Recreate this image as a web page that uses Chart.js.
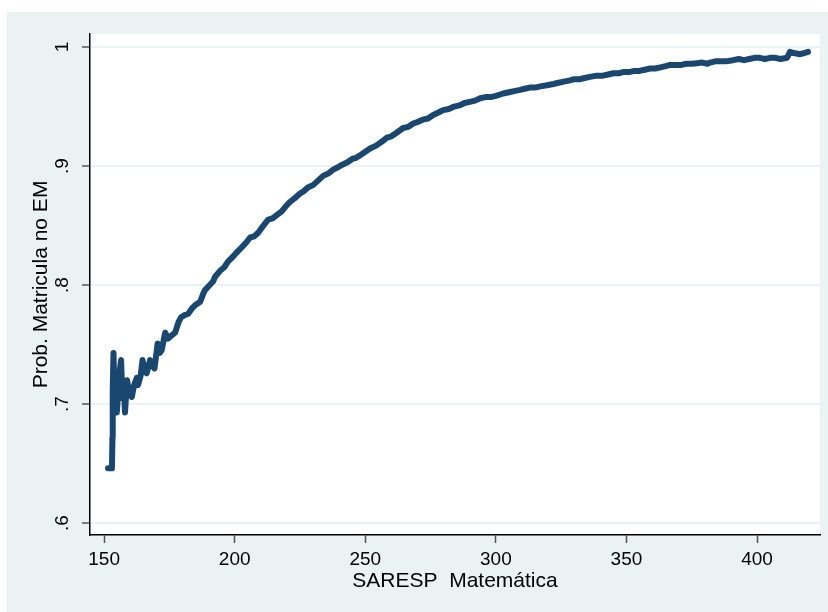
<!DOCTYPE html>
<html>
<head>
<meta charset="utf-8">
<script src="https://cdn.jsdelivr.net/npm/chart.js@4/dist/chart.umd.min.js"></script>
<style>
  body { margin: 0; background: #ffffff; }
  canvas { display: block; }
</style>
</head>
<body>
<canvas id="probChart" width="828" height="612"></canvas>
<script>
// Nota SARESP (eixo x) e probabilidade estimada de matrícula (eixo y)
const saresp = [
  151.5, 153.0, 153.2, 153.3, 153.6, 154.0, 154.3, 154.9, 155.5, 156.0,
  156.5, 157.0, 157.5, 158.0, 158.8, 159.5, 160.6, 161.5, 162.5, 163.0,
  164.0, 164.7, 165.5, 166.3, 167.6, 168.5, 169.3, 170.5, 171.3, 172.0,
  173.4, 174.5, 176, 177.2, 178.5, 179.5, 181, 182.2, 183.5, 184.8,
  186.8, 188, 188.7, 190, 191.7, 192.5, 194.4, 196, 197.5, 199.4,
  201, 202.8, 204.5, 205.9, 207.5, 209, 211, 212.8, 214.5, 216.2,
  218, 219.5, 221.2, 223, 225, 226.5, 228, 230, 232, 234,
  236, 237.7, 239.5, 241, 243, 245, 246.5, 248, 250, 252,
  254, 256, 258.3, 260, 262, 264.5, 266.5, 268.5, 270, 272,
  274, 276, 278, 279.8, 282, 284, 286, 288, 290, 292,
  294, 296, 298, 300, 302.8, 305, 307, 309.3, 311, 313,
  315, 317, 319.6, 322, 324, 326, 328.4, 330, 332, 334,
  336, 338.7, 341, 343, 345, 347, 348.7, 351, 353, 355,
  357, 359, 361, 363, 365, 366.7, 369, 371, 373, 375,
  377, 379, 381, 382, 384, 386, 388, 390.8, 393, 395,
  397, 399, 401, 403, 405, 407, 409, 411.5, 412.6, 414,
  416.5, 418, 419.5
];
const probMatricula = [
  0.646, 0.646, 0.672, 0.712, 0.743, 0.705, 0.725, 0.693, 0.715, 0.728,
  0.737, 0.705, 0.716, 0.693, 0.720, 0.710, 0.706, 0.716, 0.722, 0.716,
  0.724, 0.737, 0.728, 0.726, 0.737, 0.732, 0.730, 0.751, 0.743, 0.745,
  0.760, 0.755, 0.758, 0.760, 0.769, 0.773, 0.775, 0.776, 0.780, 0.783,
  0.786, 0.793, 0.796, 0.799, 0.803, 0.807, 0.812, 0.815, 0.820, 0.824,
  0.828, 0.832, 0.836, 0.840, 0.841, 0.844, 0.850, 0.855, 0.856, 0.859,
  0.862, 0.866, 0.870, 0.873, 0.877, 0.879, 0.882, 0.884, 0.888, 0.892,
  0.894, 0.897, 0.899, 0.901, 0.903, 0.906, 0.907, 0.909, 0.912, 0.915,
  0.917, 0.920, 0.924, 0.925, 0.928, 0.932, 0.933, 0.936, 0.937, 0.939,
  0.940, 0.943, 0.945, 0.947, 0.948, 0.950, 0.951, 0.953, 0.954, 0.955,
  0.957, 0.958, 0.958, 0.959, 0.961, 0.962, 0.963, 0.964, 0.965, 0.966,
  0.966, 0.967, 0.968, 0.969, 0.970, 0.971, 0.972, 0.973, 0.973, 0.974,
  0.975, 0.976, 0.976, 0.977, 0.978, 0.978, 0.979, 0.979, 0.980, 0.980,
  0.981, 0.982, 0.982, 0.983, 0.984, 0.985, 0.985, 0.985, 0.986, 0.986,
  0.9865, 0.987, 0.986, 0.987, 0.988, 0.988, 0.988, 0.989, 0.990, 0.989,
  0.990, 0.991, 0.991, 0.990, 0.991, 0.991, 0.990, 0.991, 0.996, 0.995,
  0.994, 0.995, 0.996
];
const xTicks = [150, 200, 250, 300, 350, 400];
const yTicks = [0.6, 0.7, 0.8, 0.9, 1];

const FONT = "'Liberation Sans', Arial, sans-serif";
const BG = '#EAF2F3';

// fundo externo azulado e área do gráfico branca
const backgroundPlugin = {
  id: 'stataBackground',
  beforeDraw(chart) {
    const ctx = chart.ctx;
    const a = chart.chartArea;
    ctx.save();
    ctx.fillStyle = '#ffffff';
    ctx.fillRect(0, 0, chart.width, chart.height);
    ctx.fillStyle = BG;
    ctx.fillRect(7, 12, chart.width - 7, chart.height - 12);
    ctx.fillStyle = '#ffffff';
    ctx.fillRect(a.left, a.top, a.right - a.left, a.bottom - a.top);
    ctx.restore();
  }
};

const points = saresp.map((x, i) => ({ x: x, y: probMatricula[i] }));

new Chart(document.getElementById('probChart'), {
  type: 'line',
  data: {
    datasets: [{
      data: points,
      borderColor: '#1A476F',
      borderWidth: 6,
      borderJoinStyle: 'round',
      borderCapStyle: 'round',
      pointRadius: 0,
      tension: 0,
      fill: false
    }]
  },
  options: {
    responsive: false,
    animation: false,
    layout: { padding: { left: 0, right: 8, top: 34, bottom: 0 } },
    plugins: {
      legend: { display: false },
      tooltip: { enabled: false }
    },
    scales: {
      x: {
        type: 'linear',
        min: 144.6,
        max: 424.1,
        afterBuildTicks: s => { s.ticks = xTicks.map(v => ({ value: v })); },
        afterFit: s => { s.height = 77; },
        grid: {
          drawOnChartArea: false,
          tickLength: 8,
          tickColor: '#555555',
          tickWidth: 1.5
        },
        border: { color: '#000000', width: 1.5 },
        ticks: {
          color: '#000000',
          font: { family: FONT, size: 19 },
          padding: 5,
          maxRotation: 0,
          autoSkip: false
        },
        title: {
          display: true,
          text: 'SARESP  Matemática',
          color: '#000000',
          font: { family: FONT, size: 21 },
          padding: { top: 0, bottom: 18 }
        }
      },
      y: {
        type: 'linear',
        min: 0.59,
        max: 1.011,
        afterBuildTicks: s => { s.ticks = yTicks.map(v => ({ value: v })); },
        afterFit: s => { s.width = 90; },
        grid: {
          color: BG,
          lineWidth: 2,
          tickLength: 8,
          tickColor: '#555555',
          tickWidth: 1.5
        },
        border: { color: '#000000', width: 1.5 },
        ticks: {
          color: '#000000',
          font: { family: FONT, size: 19 },
          minRotation: 90,
          maxRotation: 90,
          crossAlign: 'center',
          padding: 11,
          autoSkip: false,
          callback: v => (v === 1 ? '1' : String(Math.round(v * 10) / 10).replace('0.', '.'))
        },
        title: {
          display: true,
          text: 'Prob. Matricula no EM',
          color: '#000000',
          font: { family: FONT, size: 21 },
          padding: { top: 29, bottom: 0 }
        }
      }
    }
  },
  plugins: [backgroundPlugin]
});
</script>
</body>
</html>
